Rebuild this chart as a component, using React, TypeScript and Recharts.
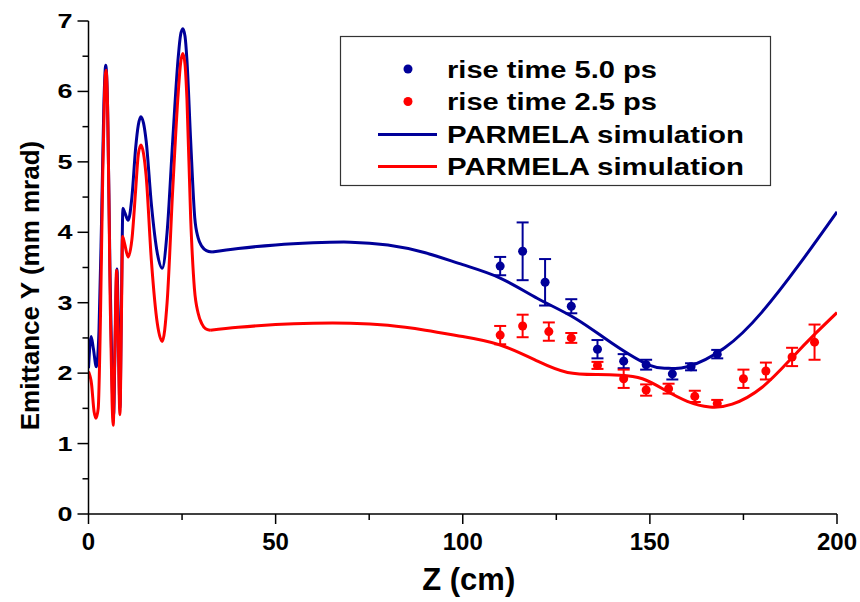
import {
  ComposedChart,
  ErrorBar,
  Label,
  Line,
  Scatter,
  XAxis,
  YAxis,
} from "recharts";

const BLUE = "#000099";
const RED = "#ff0000";
const FONT = "'Liberation Sans', Arial, Helvetica, sans-serif";

// measured points
const blueZ = [110, 116, 122, 129, 136, 143, 149, 156, 161, 168];
const blueY = [3.52, 3.73, 3.29, 2.95, 2.34, 2.17, 2.12, 1.99, 2.09, 2.27];
const blueErr = [0.13, 0.41, 0.33, 0.1, 0.13, 0.1, 0.07, 0.08, 0.05, 0.06];

const redZ = [110, 116, 123, 129, 136, 143, 149, 155, 162, 168, 175, 181, 188, 194];
const redY = [2.54, 2.67, 2.59, 2.5, 2.11, 1.92, 1.76, 1.78, 1.67, 1.57, 1.92, 2.03, 2.23, 2.44];
const redErr = [0.13, 0.16, 0.13, 0.07, 0.05, 0.13, 0.08, 0.07, 0.08, 0.05, 0.13, 0.12, 0.13, 0.25];

// PARMELA simulation curves
const blueSimZ = [
  0, 0.7, 1.3, 2.1, 2.8, 3.5, 4.1, 4.6, 5.1, 5.7, 6.3, 6.7, 7.1, 7.6, 8.0, 8.4,
  8.8, 9.2, 9.7, 10.6, 11.6, 12.6, 13.3, 14.0, 14.7, 15.4, 16.8, 18.4, 19.7,
  21.0, 22.5, 24.0, 24.6, 25.2, 25.8, 26.3, 27.3, 28.4, 29.3, 30.3, 31.5, 33,
  40, 50, 60, 70, 80, 90, 100, 110, 120, 130, 140, 150, 155, 160, 170, 180, 190,
  200,
];
const blueSimY = [
  2.07, 2.52, 2.35, 2.09, 2.6, 4.2, 5.8, 6.37, 5.8, 3.6, 1.9, 1.4, 2.4, 3.48,
  2.6, 1.5, 3.0, 4.34, 4.28, 4.17, 4.5, 5.2, 5.52, 5.64, 5.55, 5.3, 4.4, 3.7,
  3.49, 4.0, 5.3, 6.5, 6.8, 6.89, 6.78, 6.45, 5.3, 4.2, 3.92, 3.8, 3.74, 3.72,
  3.77, 3.82, 3.85, 3.86, 3.82, 3.71, 3.54, 3.35, 3.06, 2.78, 2.42, 2.11, 2.07,
  2.09, 2.36, 2.87, 3.55, 4.29,
];

const redSimZ = [
  0, 0.8, 1.5, 2.0, 2.6, 3.2, 3.8, 4.3, 4.7, 5.2, 5.8, 6.3, 6.6, 7.0, 7.5, 7.9,
  8.4, 8.8, 9.1, 9.6, 10.6, 11.6, 12.6, 13.3, 14.0, 14.7, 15.4, 16.8, 18.4,
  19.7, 21.0, 22.5, 24.0, 24.6, 25.2, 25.8, 26.3, 27.3, 28.3, 29.3, 30.3, 31.3,
  32.5, 40, 50, 60, 70, 80, 90, 100, 110, 120, 128, 136, 142, 148, 154, 160,
  166, 172, 180, 188, 194, 200,
];
const redSimY = [
  2.02, 1.85, 1.45, 1.36, 1.5, 2.8, 4.8, 6.0, 6.3, 5.5, 3.0, 1.6, 1.26, 2.2,
  3.46, 2.6, 1.41, 2.8, 3.94, 3.85, 3.65, 3.9, 4.6, 5.1, 5.24, 5.12, 4.8, 3.6,
  2.7, 2.45, 3.0, 4.6, 6.0, 6.4, 6.54, 6.38, 5.9, 4.2, 3.2, 2.85, 2.7, 2.63,
  2.61, 2.65, 2.69, 2.71, 2.71, 2.68, 2.61, 2.52, 2.4, 2.17, 2.01, 1.98, 1.97,
  1.92, 1.76, 1.6, 1.52, 1.56, 1.8, 2.22, 2.55, 2.86,
];

// the simulation switches from the rf-gun structure to the drift at ~33 cm
const DRIFT_START = 32.5;

const xTicks = [0, 25, 50, 75, 100, 125, 150, 175, 200];
const yTicks = [0, 0.5, 1, 1.5, 2, 2.5, 3, 3.5, 4, 4.5, 5, 5.5, 6, 6.5, 7];

const legendLabels = [
  "rise time 5.0 ps",
  "rise time 2.5 ps",
  "PARMELA simulation",
  "PARMELA simulation",
];

const bluePoints = blueZ.map((z, i) => ({ z, y: blueY[i], err: blueErr[i] }));
const redPoints = redZ.map((z, i) => ({ z, y: redY[i], err: redErr[i] }));
const blueSim = blueSimZ.map((z, i) => ({ z, y: blueSimY[i] }));
const redSim = redSimZ.map((z, i) => ({ z, y: redSimY[i] }));

// gun part keeps sharp peaks (monotone), drift part is a smooth spline
const gunPart = (d: { z: number; y: number }[]) => {
  const k = d.findIndex((p) => p.z >= DRIFT_START);
  return d.slice(0, k + 1);
};
const driftPart = (d: { z: number; y: number }[]) => {
  const k = d.findIndex((p) => p.z >= DRIFT_START);
  return d.slice(k);
};

function XTick(props: any) {
  const { x, y, payload } = props;
  const major = payload.value % 50 === 0;
  return (
    <g>
      <line x1={x} x2={x} y1={y} y2={y + (major ? 10 : 6)} stroke="#000" strokeWidth={1.5} />
      {major && (
        <text
          x={x}
          y={y + 36}
          textAnchor="middle"
          fontFamily={FONT}
          fontWeight={700}
          fontSize={24}
          fill="#000"
        >
          {payload.value}
        </text>
      )}
    </g>
  );
}

function YTick(props: any) {
  const { x, y, payload } = props;
  const major = Number.isInteger(payload.value);
  return (
    <g>
      <line x1={x - (major ? 11 : 6)} x2={x} y1={y} y2={y} stroke="#000" strokeWidth={1.5} />
      {major && (
        <text
          x={x - 16}
          y={y + 7}
          textAnchor="end"
          fontFamily={FONT}
          fontWeight={700}
          fontSize={20}
          fill="#000"
          textLength={15}
          lengthAdjust="spacingAndGlyphs"
        >
          {payload.value}
        </text>
      )}
    </g>
  );
}

function XTitle(props: any) {
  const { viewBox } = props;
  return (
    <text
      x={viewBox.x + viewBox.width / 2 + 6}
      y={viewBox.y + 76}
      textAnchor="middle"
      fontFamily={FONT}
      fontWeight={700}
      fontSize={31}
      fill="#000"
    >
      Z (cm)
    </text>
  );
}

function YTitle(props: any) {
  const { viewBox } = props;
  const cx = viewBox.x + 30;
  const cy = viewBox.y + viewBox.height / 2 + 18;
  return (
    <text
      x={cx}
      y={cy}
      transform={`rotate(-90 ${cx} ${cy})`}
      textAnchor="middle"
      dominantBaseline="central"
      fontFamily={FONT}
      fontWeight={700}
      fontSize={26}
      fill="#000"
    >
      Emittance Y (mm mrad)
    </text>
  );
}

function LegendBox() {
  const textX = 447;
  const rows = [69, 101.5, 134.5, 166.5];
  return (
    <svg
      width={860}
      height={602}
      style={{ position: "absolute", left: 0, top: 0, pointerEvents: "none" }}
    >
      <rect x={340.5} y={36.5} width={430} height={149} fill="#fff" stroke="#333" strokeWidth={1.2} />
      <circle cx={408} cy={rows[0]} r={4.5} fill={BLUE} />
      <circle cx={408} cy={rows[1]} r={4.5} fill={RED} />
      <line x1={378} x2={437} y1={rows[2]} y2={rows[2]} stroke={BLUE} strokeWidth={3} />
      <line x1={378} x2={437} y1={rows[3]} y2={rows[3]} stroke={RED} strokeWidth={3} />
      {legendLabels.map((label, i) => (
        <text
          key={i}
          x={textX}
          y={rows[i] + 8.5}
          fontFamily={FONT}
          fontWeight={700}
          fontSize={23}
          fill="#000"
          textLength={i < 2 ? 210 : 297}
          lengthAdjust="spacingAndGlyphs"
        >
          {label}
        </text>
      ))}
    </svg>
  );
}

export default function App() {
  const sims = [
    { data: blueSim, color: BLUE },
    { data: redSim, color: RED },
  ];
  return (
    <div
      style={{
        position: "absolute",
        left: 0,
        top: 0,
        width: 860,
        height: 602,
        background: "#fff",
      }}
    >
      <ComposedChart
        width={860}
        height={602}
        margin={{ top: 21, right: 23, bottom: 0, left: 0 }}
      >
        <XAxis
          dataKey="z"
          type="number"
          domain={[0, 200]}
          ticks={xTicks}
          interval={0}
          height={88}
          tickSize={0}
          tickMargin={0}
          tickLine={false}
          tick={<XTick />}
          axisLine={{ stroke: "#000", strokeWidth: 1.5 }}
          allowDataOverflow
        >
          <Label content={<XTitle />} />
        </XAxis>
        <XAxis
          xAxisId="top"
          orientation="top"
          type="number"
          domain={[0, 200]}
          height={0}
          tick={false}
          tickLine={false}
          axisLine={{ stroke: "#000", strokeWidth: 1.5 }}
        />
        <YAxis
          dataKey="y"
          type="number"
          domain={[0, 7]}
          ticks={yTicks}
          interval={0}
          width={88.5}
          tickSize={0}
          tickMargin={0}
          tickLine={false}
          tick={<YTick />}
          axisLine={{ stroke: "#000", strokeWidth: 1.5 }}
          allowDataOverflow
        >
          <Label content={<YTitle />} />
        </YAxis>
        <YAxis
          yAxisId="right"
          orientation="right"
          type="number"
          domain={[0, 7]}
          width={0}
          tick={false}
          tickLine={false}
          axisLine={{ stroke: "#000", strokeWidth: 1.5 }}
        />
        {sims.flatMap((s, i) => [
          <Line
            key={`gun${i}`}
            data={gunPart(s.data)}
            dataKey="y"
            type="monotone"
            stroke={s.color}
            strokeWidth={3}
            dot={false}
            activeDot={false}
            isAnimationActive={false}
          />,
          <Line
            key={`drift${i}`}
            data={driftPart(s.data)}
            dataKey="y"
            type="natural"
            stroke={s.color}
            strokeWidth={3}
            dot={false}
            activeDot={false}
            isAnimationActive={false}
          />,
        ])}
        <Scatter data={bluePoints} dataKey="y" fill={BLUE} isAnimationActive={false}>
          <ErrorBar dataKey="err" direction="y" width={6} stroke={BLUE} strokeWidth={2} />
        </Scatter>
        <Scatter data={redPoints} dataKey="y" fill={RED} isAnimationActive={false}>
          <ErrorBar dataKey="err" direction="y" width={6} stroke={RED} strokeWidth={2} />
        </Scatter>
      </ComposedChart>
      <LegendBox />
    </div>
  );
}
